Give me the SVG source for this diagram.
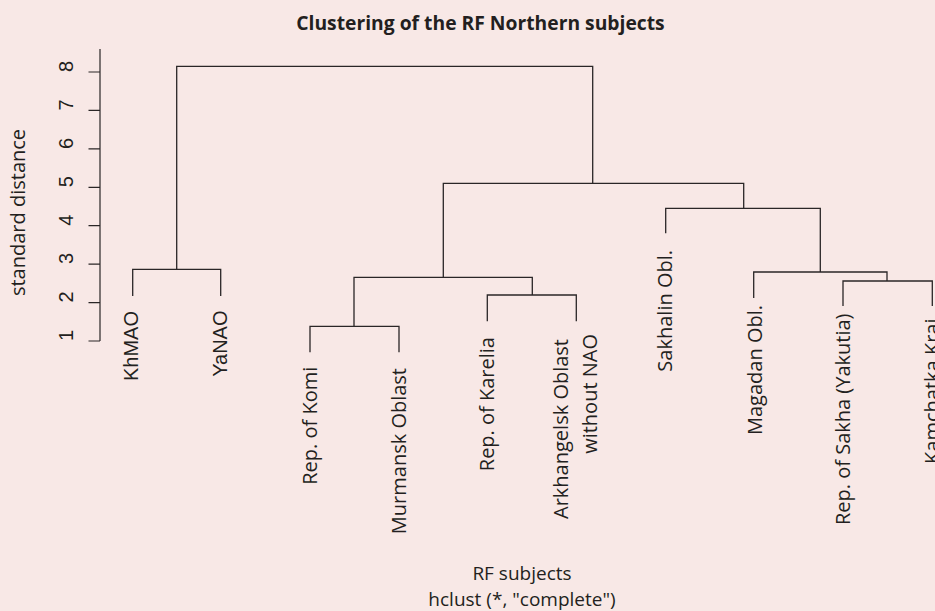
<svg xmlns="http://www.w3.org/2000/svg" width="935" height="611" viewBox="0 0 935 611">
  <style>
    .bg { fill: #f8e8e6; }
    .tree { fill: none; stroke: #2a2627; stroke-width: 1.3; }
    .axis { fill: none; stroke: #2a2627; stroke-width: 1.2; }
    text { fill: #231f20; }
    .os { font-family: "Open Sans", "DejaVu Sans", sans-serif; font-size: 20px; }
    .ar { font-family: "Liberation Sans", Arial, sans-serif; font-size: 20px; }
    .title { font-family: "Open Sans", "DejaVu Sans", sans-serif; font-size: 19.3px; font-weight: bold; text-anchor: middle; }
    .sub { font-family: "Open Sans", "DejaVu Sans", sans-serif; font-size: 19px; text-anchor: middle; }
    .leaf { text-anchor: end; }
  </style>

  <rect class="bg" x="0" y="0" width="935" height="611"/>

  <text class="title" x="480.5" y="30">Clustering of the RF Northern subjects</text>

  <!-- vertical axis -->
  <g id="y-axis">
    <path class="axis" d="M100,49 V341 M88.5,341 H100 M88.5,302.6 H100 M88.5,264.1 H100 M88.5,225.7 H100 M88.5,187.3 H100 M88.5,148.9 H100 M88.5,110.4 H100 M88.5,72 H100"/>
    <g class="ar">
      <text transform="translate(72.5,341) rotate(-90)">1</text>
      <text transform="translate(72.5,302.6) rotate(-90)">2</text>
      <text transform="translate(72.5,264.1) rotate(-90)">3</text>
      <text transform="translate(72.5,225.7) rotate(-90)">4</text>
      <text transform="translate(72.5,187.3) rotate(-90)">5</text>
      <text transform="translate(72.5,148.9) rotate(-90)">6</text>
      <text transform="translate(72.5,110.4) rotate(-90)">7</text>
      <text transform="translate(72.5,72) rotate(-90)">8</text>
    </g>
    <text class="os" text-anchor="middle" transform="translate(25,212.5) rotate(-90)">standard distance</text>
  </g>

  <!-- merge links -->
  <g id="connectors">
    <path class="tree" d="M176.7,269.3 V66.3 H592.7 V183.3"/>
    <path class="tree" d="M132.7,296 V269.3 H220.7 V296"/>
    <path class="tree" d="M443.3,277.3 V183.3 H743.7 V208.3"/>
    <path class="tree" d="M354,326.3 V277.3 H532.3 V295"/>
    <path class="tree" d="M310,352.3 V326.3 H399 V352.3"/>
    <path class="tree" d="M487.3,321.3 V295 H576.3 V321.3"/>
    <path class="tree" d="M665.7,233.3 V208.3 H820.3 V272"/>
    <path class="tree" d="M753.7,298 V272 H887 V281"/>
    <path class="tree" d="M843,306 V281 H932.3 V306"/>
  </g>

  <!-- leaves -->
  <g id="leaf-khmao"><text class="ar leaf" transform="translate(137.5,311) rotate(-90)">KhMAO</text></g>
  <g id="leaf-yanao"><text class="ar leaf" transform="translate(226.7,310.5) rotate(-90)">YaNAO</text></g>
  <g id="leaf-komi"><text class="os leaf" transform="translate(316.5,366.7) rotate(-90)">Rep. of Komi</text></g>
  <g id="leaf-murmansk"><text class="os leaf" transform="translate(406,368) rotate(-90)">Murmansk Oblast</text></g>
  <g id="leaf-karelia"><text class="os leaf" transform="translate(494,337) rotate(-90)">Rep. of Karelia</text></g>
  <g id="leaf-arkhangelsk">
    <text class="os leaf" transform="translate(568.3,339) rotate(-90)">Arkhangelsk Oblast</text>
    <text class="os leaf" transform="translate(596.7,334) rotate(-90)">without NAO</text>
  </g>
  <g id="leaf-sakhalin"><text class="os leaf" transform="translate(672.3,250) rotate(-90)">Sakhalin Obl.</text></g>
  <g id="leaf-magadan"><text class="os leaf" transform="translate(762,305) rotate(-90)">Magadan Obl.</text></g>
  <g id="leaf-sakha"><text class="os leaf" transform="translate(850,313.5) rotate(-90)">Rep. of Sakha (Yakutia)</text></g>
  <g id="leaf-kamchatka"><text class="os leaf" transform="translate(939,318.5) rotate(-90)">Kamchatka Krai</text></g>

  <text class="sub" x="522" y="580">RF subjects</text>
  <text class="sub" x="522" y="606">hclust (*, "complete")</text>
</svg>
